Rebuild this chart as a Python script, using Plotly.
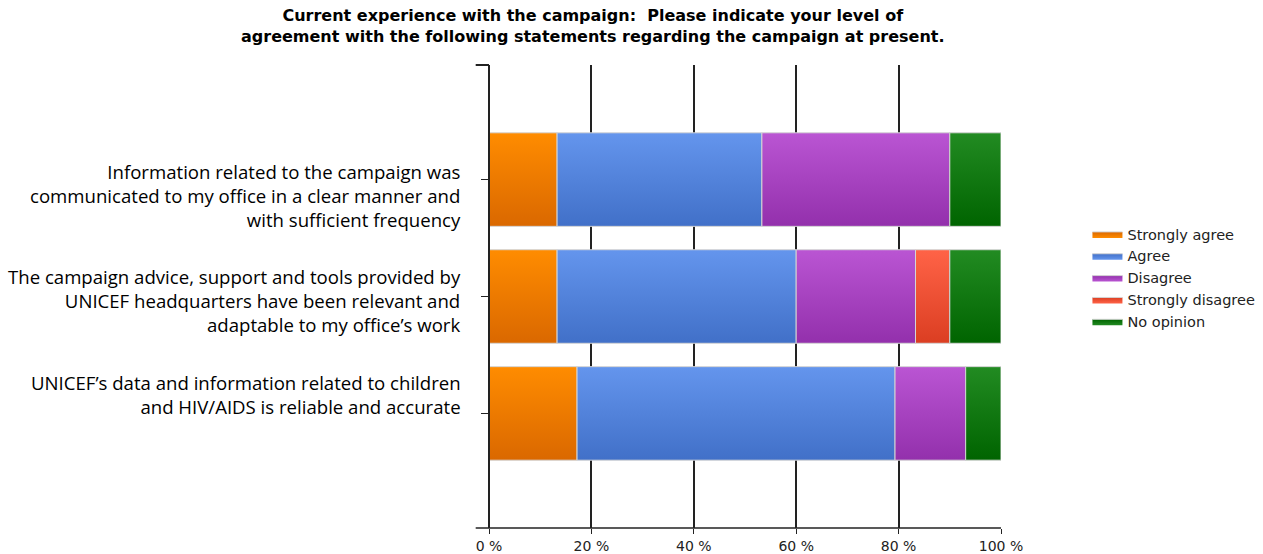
import plotly.graph_objects as go

categories = [
    "Information related to the campaign was<br>communicated to my office in a clear manner and<br>with sufficient frequency",
    "The campaign advice, support and tools provided by<br>UNICEF headquarters have been relevant and<br>adaptable to my office’s work",
    "UNICEF’s data and information related to children<br>and HIV/AIDS is reliable and accurate",
]
series_names = ["Strongly agree", "Agree", "Disagree", "Strongly disagree", "No opinion"]
strongly_agree = [13.3, 13.3, 17.2]
agree = [40.0, 46.7, 62.1]
disagree = [36.7, 23.3, 13.8]
strongly_disagree = [0.0, 6.7, 0.0]
no_opinion = [10.0, 10.0, 6.9]
x_ticks = [0, 20, 40, 60, 80, 100]
x_tick_labels = ["0 %", "20 %", "40 %", "60 %", "80 %", "100 %"]

# (top colour, bottom colour) of each series' vertical gradient
colors_top = ["#FF8C00", "#6495ED", "#BA55D3", "#FF6347", "#228B22"]
colors_bottom = ["#DA6800", "#4170C8", "#9330AC", "#DB3E22", "#006400"]

# vertical pixel offsets of the category labels relative to their ticks
label_shift = [-16, -4, 19]

values = [strongly_agree, agree, disagree, strongly_disagree, no_opinion]
half = 0.4  # half bar thickness in category units

fig = go.Figure()
left = [0.0] * len(categories)
for name, vals, ctop, cbot in zip(series_names, values, colors_top, colors_bottom):
    first = True
    for i, v in enumerate(vals):
        x0 = left[i]
        x1 = x0 + v
        left[i] = x1
        if v <= 0:
            continue
        y_top, y_bot = i - half, i + half
        fig.add_trace(go.Scatter(
            x=[x0, x1, x1, x0, x0],
            y=[y_top, y_top, y_bot, y_bot, y_top],
            mode="lines", fill="toself",
            line=dict(color="#D4D4D4", width=1),
            fillgradient=dict(type="vertical", start=y_top, stop=y_bot,
                              colorscale=[[0, ctop], [1, cbot]]),
            name=name, legendgroup=name, showlegend=first,
            hoverinfo="name", hoveron="fills",
        ))
        first = False

annotations = [dict(
    text="Current experience with the campaign:  Please indicate your level of<br>agreement with the following statements regarding the campaign at present.",
    xref="paper", yref="paper", x=0.203, y=1.0, yanchor="bottom", yshift=17,
    xanchor="center", showarrow=False, align="center",
    font=dict(family="DejaVu Sans", size=16, color="black", weight="bold"),
)]
for i, (cat, sh) in enumerate(zip(categories, label_shift)):
    annotations.append(dict(
        text=cat, xref="paper", yref="y", x=0, y=i, xanchor="right", yanchor="middle",
        xshift=-26, yshift=sh, showarrow=False, align="right",
        font=dict(family="Open Sans", size=18.6, color="black"),
    ))

fig.update_layout(
    width=1263, height=554,
    margin=dict(l=489, r=262, t=65, b=26, autoexpand=False),
    paper_bgcolor="white", plot_bgcolor="white",
    xaxis=dict(
        range=[0, 100], tickvals=x_ticks, ticktext=x_tick_labels,
        showgrid=True, gridcolor="#222222", gridwidth=1.5,
        ticks="outside", ticklen=5, tickcolor="#222222",
        showline=False, zeroline=False, automargin=False,
        tickfont=dict(family="DejaVu Sans", size=14, color="#222222"),
        layer="below traces",
    ),
    yaxis=dict(
        range=[2.98, -0.98], tickvals=[0, 1, 2], ticktext=["", "", ""],
        ticks="outside", ticklen=7, tickcolor="#222222",
        showline=False, showgrid=False, zeroline=False, automargin=False,
    ),
    legend=dict(
        xref="container", x=0.861, xanchor="left", y=0.54, yanchor="middle",
        font=dict(family="DejaVu Sans", size=14.5, color="#222222"),
        traceorder="normal", tracegroupgap=0, itemwidth=30,
        bgcolor="rgba(0,0,0,0)",
    ),
    showlegend=True,
    annotations=annotations,
    shapes=[
        dict(type="line", xref="paper", yref="paper", x0=0, x1=0, y0=0, y1=1,
             line=dict(color="#222222", width=2)),
        dict(type="line", xref="paper", yref="paper", x0=-0.026, x1=0, y0=1, y1=1,
             line=dict(color="#222222", width=2)),
        dict(type="line", xref="paper", yref="paper", x0=-0.026, x1=1, y0=0, y1=0,
             line=dict(color="#222222", width=1.5)),
    ],
)

fig.write_html("out.html")
